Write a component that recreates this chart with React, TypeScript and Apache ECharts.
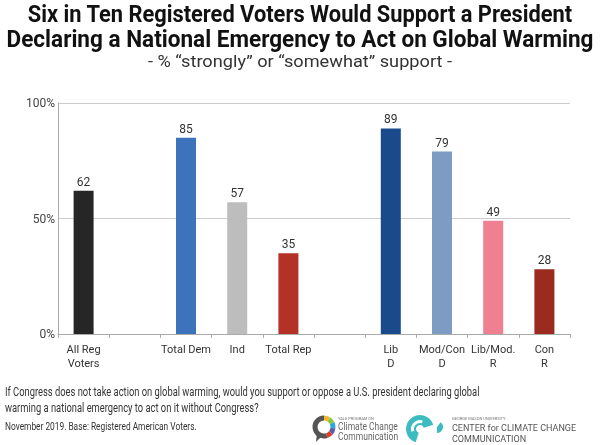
import React, { useEffect, useRef } from "react";
import * as echarts from "echarts";

const categories = ["All Reg\nVoters", "", "Total Dem", "Ind", "Total Rep", " ", "Lib\nD", "Mod/Con\nD", "Lib/Mod.\nR", "Con\nR"];
const values: (number | null)[] = [62, null, 85, 57, 35, null, 89, 79, 49, 28];
const barColors = ["#262626", "#ffffff", "#3c73bb", "#bdbdbd", "#b33125", "#ffffff", "#1b4a8c", "#7c9cc4", "#ee8092", "#9a2b1e"];
const yTicks = [0, 50, 100];

const titleLines = [
  "Six in Ten Registered Voters Would Support a President",
  "Declaring a National Emergency to Act on Global Warming",
];
const subtitle = "- % \u201cstrongly\u201d or \u201csomewhat\u201d support -";
const footnote1 = "If Congress does not take action on global warming, would you support or oppose a U.S. president declaring global";
const footnote2 = "warming a national emergency to act on it without Congress?";
const footnote3 = "November 2019. Base: Registered American Voters.";

export default function App() {
  const ref = useRef<HTMLDivElement>(null);
  useEffect(() => {
    const chart = echarts.init(ref.current!, null, { renderer: "svg" });
    const ringColors = ["#f2b632", "#8cc63f", "#2ea8d8", "#5b5ea6", "#d6402f"];
    const ringSectors = ringColors.map((c, i) => ({
      type: "arc",
      shape: { cx: 324, cy: 427, r: 9, startAngle: -Math.PI / 2 + (i * Math.PI) / 5 * 0.9, endAngle: -Math.PI / 2 + ((i + 1) * Math.PI) / 5 * 0.9 },
      style: { stroke: c, lineWidth: 5, fill: null },
    }));
    chart.setOption({
      animation: false,
      grid: { left: 58, right: 30, top: 103, bottom: 111, containLabel: false },
      graphic: [
        {
          type: "text", x: 300, y: 2, scaleX: 0.91,
          style: { text: titleLines[0], font: "bold 24px Roboto", fill: "#111", align: "center", verticalAlign: "top" },
        },
        {
          type: "text", x: 300, y: 27, scaleX: 0.94,
          style: { text: titleLines[1], font: "bold 24px Roboto", fill: "#111", align: "center", verticalAlign: "top" },
        },
        {
          type: "text", x: 300, y: 53, scaleX: 1.07,
          style: { text: subtitle, font: "17px Roboto", fill: "#333", align: "center", verticalAlign: "top" },
        },
        { type: "text", x: 5, y: 386, scaleX: 0.78, style: { text: footnote1, font: "12px Roboto", fill: "#333", verticalAlign: "top" } },
        { type: "text", x: 5, y: 402, scaleX: 0.78, style: { text: footnote2, font: "12px Roboto", fill: "#333", verticalAlign: "top" } },
        { type: "text", x: 5, y: 421, scaleX: 0.76, style: { text: footnote3, font: "11px Roboto", fill: "#333", verticalAlign: "top" } },
        {
          type: "arc",
          shape: { cx: 324, cy: 427, r: 9, startAngle: -Math.PI / 2 + Math.PI * 0.9, endAngle: -Math.PI / 2 + Math.PI * 2 },
          style: { stroke: "#555555", lineWidth: 5, fill: null },
        },
        { type: "polygon", shape: { points: [[317, 433], [322, 436], [316, 442]] }, style: { fill: "#555555" } },
        ...ringSectors,
        { type: "text", x: 338, y: 416, style: { text: "YALE PROGRAM ON", font: "4px Roboto", fill: "#777", verticalAlign: "top" } },
        { type: "text", x: 338, y: 421, scaleX: 0.85, style: { text: "Climate Change", font: "10px Roboto", fill: "#666", verticalAlign: "top" } },
        { type: "text", x: 338, y: 431, scaleX: 0.85, style: { text: "Communication", font: "10px Roboto", fill: "#666", verticalAlign: "top" } },
        { type: "sector", shape: { cx: 420, cy: 429, r: 14, r0: 4, startAngle: Math.PI * 0.6, endAngle: Math.PI * 1.9 }, style: { fill: "#3cbcc0" } },
        { type: "sector", shape: { cx: 420, cy: 429, r: 9, r0: 6, startAngle: Math.PI * 0.9, endAngle: Math.PI * 1.6 }, style: { fill: "#ffffff" } },
        { type: "sector", shape: { cx: 437, cy: 427, r: 6, startAngle: -Math.PI * 0.3, endAngle: Math.PI * 0.5 }, style: { fill: "#3cbcc0" } },
        { type: "text", x: 452, y: 416, style: { text: "GEORGE MASON UNIVERSITY", font: "4px Roboto", fill: "#777", verticalAlign: "top" } },
        { type: "text", x: 452, y: 423, style: { text: "CENTER for CLIMATE CHANGE", font: "9px Roboto", fill: "#555", verticalAlign: "top" } },
        { type: "text", x: 452, y: 434, style: { text: "COMMUNICATION", font: "9px Roboto", fill: "#555", verticalAlign: "top" } },
      ],
      xAxis: {
        type: "category",
        data: categories,
        boundaryGap: true,
        axisLine: { lineStyle: { color: "#aaaaaa" } },
        axisTick: { show: true, length: 4, lineStyle: { color: "#aaaaaa" }, alignWithLabel: false },
        axisLabel: { color: "#333", fontFamily: "Roboto", fontSize: 11, interval: 0, lineHeight: 14, margin: 8 },
      },
      yAxis: {
        type: "value",
        min: 0, max: 100, interval: 50,
        axisLine: { show: true, lineStyle: { color: "#aaaaaa" } },
        axisTick: { show: false },
        splitLine: { lineStyle: { color: "#cccccc" } },
        axisLabel: {
          color: "#444", fontFamily: "Roboto", fontSize: 12, margin: 3,
          formatter: (v: number) => (yTicks.includes(v) ? v + "%" : ""),
        },
      },
      series: [
        {
          type: "bar",
          barWidth: 20,
          data: values.map((v, i) => ({ value: v, itemStyle: { color: barColors[i] } })),
          label: { show: true, position: "top", distance: 3, color: "#333", fontFamily: "Roboto", fontSize: 12 },
        },
      ],
    });
    return () => chart.dispose();
  }, []);
  return <div ref={ref} style={{ width: 600, height: 445, position: "fixed", left: 0, top: 0 }} />;
}
